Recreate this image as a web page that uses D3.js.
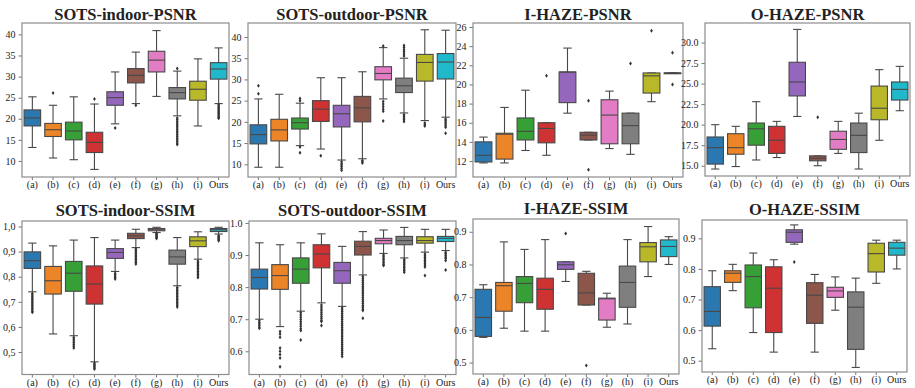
<!DOCTYPE html>
<html><head><meta charset="utf-8">
<script src="https://cdn.jsdelivr.net/npm/d3@7"></script>
<style>body{margin:0;background:#fff}svg{display:block}</style>
</head><body><svg id="c" width="915" height="388"></svg>
<script>
const categories = ["(a)","(b)","(c)","(d)","(e)","(f)","(g)","(h)","(i)","Ours"];
const boxColors = ["#2b77b0","#ec8428","#36a036","#cf3233","#9467bd","#8c564b","#e27cc4","#7f7f7f","#b8b828","#22b8cc"];
const panelTitles = ["SOTS-indoor-PSNR","SOTS-outdoor-PSNR","I-HAZE-PSNR","O-HAZE-PSNR",
                     "SOTS-indoor-SSIM","SOTS-outdoor-SSIM","I-HAZE-SSIM","O-HAZE-SSIM"];

// Box statistics per method: [lower whisker, Q1, median, Q3, upper whisker]
const sotsIndoorPsnr = [
  [13.2,18.3,20.2,22.1,25.2],[10.7,15.8,17.4,18.9,23.2],[10.3,15.0,17.1,19.2,25.2],
  [8.0,12.0,14.4,16.8,23.5],[18.8,23.2,25.0,26.4,31.1],[23.6,28.5,30.3,31.9,35.8],
  [25.3,31.1,33.9,36.0,40.9],[20.7,24.7,26.2,27.4,31.3],[18.3,24.4,27.0,28.9,34.2],
  [23.6,29.4,31.8,33.3,36.8]];
const sotsIndoorPsnrOutliers = [[],[26.1],[],[24.7],[17.8],[23.2],[],
  [31.9,20.2,19.8,19.4,19.0,18.6,18.2,17.8,17.4,17.0,16.6,16.2,15.8,15.4,15.0,14.6,14.2,13.9],[],
  [23.3,23.0,22.7,22.4,22.1,21.8,21.5,21.2,20.9,20.6,20.3,20.1]];

const sotsOutdoorPsnr = [
  [9.3,14.8,17.0,19.3,25.4],[9.3,15.5,18.1,20.6,26.5],[14.4,18.3,19.8,20.9,24.4],
  [13.6,20.1,23.0,25.0,30.4],[11.0,18.8,21.9,23.9,30.4],[11.3,20.0,23.3,26.0,31.8],
  [25.4,29.9,31.4,33.0,37.5],[22.1,26.9,28.5,30.3,35.0],[20.3,29.6,34.0,35.9,41.7],
  [21.1,30.1,34.1,36.1,41.6]];
const sotsOutdoorPsnrOutliers = [[26.6,28.5],[],[25.0,25.5,14.1,12.7],[12.0],
  [10.6,10.2,9.8,9.4,9.0,8.6],[10.9,10.6,10.3],[37.9,24.8,24.2,23.6,23.0,22.5,20.2],
  [35.5,36.0,36.5,37.0,37.5,38.0,21.7,21.3,20.9,20.5,20.1],[19.7,19.3,19.0],
  [20.7,20.3,19.9,19.5,19.1,18.7,17.3]];

const iHazePsnr = [
  [11.8,11.9,12.6,14.0,14.5],[11.8,12.2,14.8,14.9,17.6],[13.1,14.2,15.1,16.5,19.4],
  [12.6,13.9,15.4,16.0,16.0],[17.0,18.1,21.3,21.3,23.8],[14.2,14.2,14.7,15.0,15.0],
  [13.3,13.8,16.8,18.4,19.3],[12.7,13.8,15.7,17.0,17.0],[18.2,19.1,20.9,21.2,21.2],
  [21.2,21.2,21.2,21.2,21.2]];
const iHazePsnrOutliers = [[],[],[],[20.9],[],[18.3,11.1],[],[22.2],[25.6],[23.3,20.0]];

const oHazePsnr = [
  [14.6,15.2,17.2,18.5,20.0],[14.9,16.4,17.2,18.9,19.8],[15.7,17.5,19.5,20.2,22.8],
  [16.0,16.5,18.1,19.8,20.4],[21.0,23.5,25.2,27.6,31.6],[15.0,15.6,15.9,16.2,16.2],
  [16.5,17.0,18.2,19.2,20.4],[14.6,16.6,18.7,20.2,21.4],[18.1,20.6,22.0,24.7,26.7],
  [21.7,23.0,24.3,25.2,27.1]];
const oHazePsnrOutliers = [[],[],[],[],[],[20.9],[],[],[],[]];

const sotsIndoorSsim = [
  [0.740,0.833,0.864,0.899,0.934],[0.572,0.731,0.784,0.841,0.923],[0.565,0.742,0.814,0.861,0.946],
  [0.461,0.691,0.771,0.843,0.956],[0.821,0.873,0.897,0.912,0.946],[0.916,0.952,0.963,0.973,0.989],
  [0.976,0.983,0.987,0.992,0.997],[0.764,0.850,0.879,0.906,0.956],[0.870,0.920,0.943,0.959,0.979],
  [0.970,0.980,0.987,0.992,0.997]];
const sotsIndoorSsimOutliers = [
  [0.733,0.727,0.721,0.715,0.709,0.703,0.697,0.691,0.685,0.679,0.673,0.667,0.661,0.658],[],
  [0.558,0.551,0.544,0.537,0.530,0.523,0.516],[0.456,0.451,0.446,0.441,0.436,0.432],
  [0.814,0.808,0.802,0.796,0.791],
  [0.910,0.904,0.898,0.892,0.886,0.880,0.874,0.868,0.862,0.856,0.851],
  [0.972,0.968,0.964,0.960,0.956,0.952],
  [0.757,0.751,0.745,0.739,0.733,0.727,0.721,0.715,0.709,0.703,0.697,0.691,0.685,0.679],
  [0.863,0.857,0.851,0.845,0.839,0.833,0.827,0.821,0.815,0.809,0.803,0.797],
  [0.963,0.959,0.955,0.951,0.947,0.943]];

const sotsOutdoorSsim = [
  [0.700,0.794,0.830,0.856,0.938],[0.677,0.793,0.836,0.870,0.932],[0.725,0.812,0.856,0.891,0.938],
  [0.751,0.860,0.903,0.932,0.966],[0.740,0.812,0.851,0.877,0.927],[0.838,0.900,0.927,0.943,0.973],
  [0.905,0.935,0.945,0.952,0.978],[0.891,0.932,0.945,0.958,0.986],[0.909,0.937,0.945,0.957,0.980],
  [0.914,0.942,0.952,0.958,0.980]];
const sotsOutdoorSsimOutliers = [
  [0.695,0.690,0.685,0.680,0.675,0.672],
  [0.662,0.654,0.644,0.610,0.600,0.590,0.579,0.552],
  [0.720,0.713,0.706,0.699,0.692,0.685,0.678,0.670,0.665,0.635],
  [0.744,0.738,0.732,0.726,0.720,0.714,0.708,0.702,0.696,0.693,0.680],
  [0.735,0.729,0.723,0.717,0.711,0.705,0.699,0.693,0.687,0.681,0.675,0.669,0.663,0.657,0.651,0.645,0.639,0.633,0.627,0.621,0.615,0.609,0.603,0.597,0.591,0.584],
  [0.833,0.827,0.821,0.815,0.809,0.803,0.797,0.791,0.785,0.779,0.773,0.767,0.761,0.755,0.749,0.743,0.737,0.731,0.727,0.703],
  [0.900,0.895,0.890,0.885,0.880,0.875,0.870,0.867],
  [0.886,0.881,0.876,0.871,0.866,0.861,0.856,0.851,0.846],
  [0.903,0.898,0.893,0.888,0.883,0.878,0.873,0.868,0.863,0.836],
  [0.909,0.904,0.899,0.894,0.889,0.883,0.853]];

const iHazeSsim = [
  [0.577,0.580,0.638,0.724,0.738],[0.605,0.657,0.735,0.745,0.869],[0.596,0.683,0.742,0.763,0.846],
  [0.596,0.663,0.724,0.758,0.876],[0.748,0.785,0.799,0.808,0.808],[0.676,0.676,0.713,0.773,0.779],
  [0.608,0.630,0.695,0.697,0.712],[0.618,0.669,0.745,0.795,0.876],[0.763,0.808,0.854,0.867,0.916],
  [0.800,0.824,0.855,0.875,0.885]];
const iHazeSsimOutliers = [[],[],[],[],[0.895],[0.491],[],[],[],[]];

const oHazeSsim = [
  [0.539,0.613,0.661,0.742,0.794],[0.729,0.756,0.786,0.794,0.815],[0.592,0.673,0.775,0.813,0.852],
  [0.528,0.592,0.737,0.807,0.830],[0.881,0.887,0.920,0.928,0.944],[0.528,0.622,0.714,0.755,0.782],
  [0.665,0.707,0.728,0.740,0.774],[0.478,0.537,0.675,0.725,0.770],[0.753,0.790,0.850,0.884,0.894],
  [0.800,0.845,0.868,0.887,0.894]];
const oHazeSsimOutliers = [[],[],[],[],[0.823],[],[],[],[],[]];

// Y tick values
const ticksSotsPsnr = [10,15,20,25,30,35,40];
const ticksIHazePsnr = [12,14,16,18,20,22,24,26];
const ticksOHazePsnr = [15,17.5,20,22.5,25,27.5,30];
const ticksSotsIndoorSsim = [0.5,0.6,0.7,0.8,0.9,1.0];
const ticksSotsOutdoorSsim = [0.6,0.7,0.8,0.9,1.0];
const ticksHazeSsim = [0.5,0.6,0.7,0.8,0.9];

// Layout (pixel frames and axis domains)
const f1 = d3.format("d"), f2 = d3.format(".1f"), fComma = v => d3.format(".1f")(v).replace(".", ",");
const panels = [
  {stats:sotsIndoorPsnr, out:sotsIndoorPsnrOutliers, ticks:ticksSotsPsnr, fmt:f1, x0:22, x1:229, y0:23, y1:177, dom:[6.2,42.7], ty:20},
  {stats:sotsOutdoorPsnr, out:sotsOutdoorPsnrOutliers, ticks:ticksSotsPsnr, fmt:f1, x0:248, x1:456, y0:23, y1:177, dom:[7.0,43.3], ty:20},
  {stats:iHazePsnr, out:iHazePsnrOutliers, ticks:ticksIHazePsnr, fmt:f1, x0:473, x1:683, y0:23, y1:177, dom:[10.33,26.42], ty:20},
  {stats:oHazePsnr, out:oHazePsnrOutliers, ticks:ticksOHazePsnr, fmt:f2, x0:705, x1:910, y0:23, y1:176, dom:[13.75,32.38], ty:20},
  {stats:sotsIndoorSsim, out:sotsIndoorSsimOutliers, ticks:ticksSotsIndoorSsim, fmt:fComma, x0:22, x1:229, y0:221, y1:374.5, dom:[0.4105,1.022], ty:215.5},
  {stats:sotsOutdoorSsim, out:sotsOutdoorSsimOutliers, ticks:ticksSotsOutdoorSsim, fmt:f2, x0:249, x1:456, y0:221, y1:374.5, dom:[0.5277,1.006], ty:215.5},
  {stats:iHazeSsim, out:iHazeSsimOutliers, ticks:ticksHazeSsim, fmt:f2, x0:473, x1:679, y0:219, y1:374, dom:[0.465,0.939], ty:214},
  {stats:oHazeSsim, out:oHazeSsimOutliers, ticks:ticksHazeSsim, fmt:f2, x0:702, x1:907, y0:220, y1:372, dom:[0.463,0.960], ty:215}
];

const svg = d3.select("#c");
const edge = "#484848";
const font = "'Liberation Serif','Times New Roman',serif";

panels.forEach((p, pi) => {
  const g = svg.append("g");
  const x = d3.scaleBand().domain(categories).range([p.x0, p.x1]).paddingInner(0.2).paddingOuter(0.1);
  const y = d3.scaleLinear().domain(p.dom).range([p.y1, p.y0]);
  const bw = x.bandwidth();

  p.stats.forEach((s, i) => {
    const cx = x(categories[i]) + bw / 2;
    const bg = g.append("g");
    bg.append("line").attr("x1", cx).attr("x2", cx).attr("y1", y(s[0])).attr("y2", y(s[1]))
      .attr("stroke", edge).attr("stroke-width", 1.1);
    bg.append("line").attr("x1", cx).attr("x2", cx).attr("y1", y(s[3])).attr("y2", y(s[4]))
      .attr("stroke", edge).attr("stroke-width", 1.1);
    [s[0], s[4]].forEach(v => bg.append("line").attr("x1", cx - bw / 4).attr("x2", cx + bw / 4)
      .attr("y1", y(v)).attr("y2", y(v)).attr("stroke", edge).attr("stroke-width", 1.1));
    const h = Math.max(y(s[1]) - y(s[3]), 0.8);
    bg.append("rect").attr("x", x(categories[i])).attr("y", y(s[3])).attr("width", bw).attr("height", h)
      .attr("fill", boxColors[i]).attr("stroke", edge).attr("stroke-width", 1.1);
    bg.append("line").attr("x1", x(categories[i])).attr("x2", x(categories[i]) + bw)
      .attr("y1", y(s[2])).attr("y2", y(s[2])).attr("stroke", edge).attr("stroke-width", 1.1);
    bg.selectAll("path.o").data(p.out[i]).join("path").attr("class", "o")
      .attr("d", v => { const yy = y(v); return `M${cx},${yy-2}L${cx+1.4},${yy}L${cx},${yy+2}L${cx-1.4},${yy}Z`; })
      .attr("fill", "#333");
  });

  const ya = g.append("g").attr("transform", `translate(${p.x0},0)`)
    .call(d3.axisLeft(y).tickValues(p.ticks).tickFormat(p.fmt).tickSize(3.5).tickPadding(3));
  const xa = g.append("g").attr("transform", `translate(0,${p.y1})`)
    .call(d3.axisBottom(x).tickSize(3).tickPadding(1));
  [ya, xa].forEach(a => {
    a.attr("font-family", font).attr("font-size", 10);
    a.select(".domain").remove();
    a.selectAll(".tick line").attr("stroke", "#777");
    a.selectAll("text").attr("fill", "#222").attr("font-family", font).attr("font-size", 10);
  });

  g.append("rect").attr("x", p.x0).attr("y", p.y0).attr("width", p.x1 - p.x0).attr("height", p.y1 - p.y0)
    .attr("fill", "none").attr("stroke", "#8c8c8c").attr("stroke-width", 1.2);

  g.append("text").attr("x", (p.x0 + p.x1) / 2).attr("y", p.ty).attr("text-anchor", "middle")
    .attr("font-family", font).attr("font-weight", "bold").attr("font-size", 16.5).attr("fill", "#222")
    .text(panelTitles[pi]);
});
</script></body></html>
